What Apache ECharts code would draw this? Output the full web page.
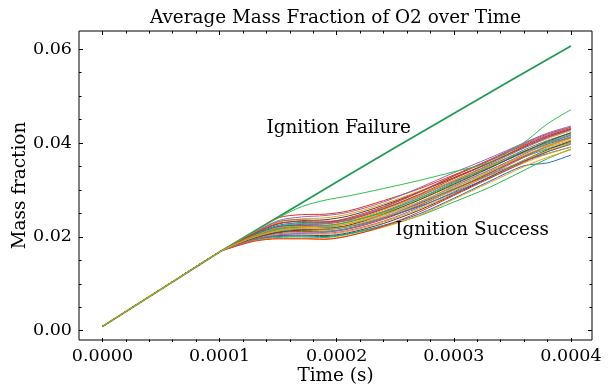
<!DOCTYPE html>
<html>
<head>
<meta charset="utf-8">
<script src="https://cdn.jsdelivr.net/npm/echarts@6/dist/echarts.min.js"></script>
<style>html,body{margin:0;padding:0;background:#fff;}#c{width:614px;height:390px;}</style>
</head>
<body>
<div id="c"></div>
<script>
// ---------- data ----------
const prefixTimes = [0, 0.00005, 0.0001];
const prefixValues = [0.0005, 0.0085, 0.0165];

const failureTimes = [0, 0.00005, 0.0001, 0.00015, 0.0002, 0.00025, 0.0003, 0.00035, 0.0004];
const failureValues = [0.0005, 0.0085, 0.0165, 0.0240, 0.0315, 0.0389, 0.0462, 0.0535, 0.0607];

const successTimes = [0.00011, 0.00013, 0.00015, 0.00017, 0.00019, 0.00021, 0.00024, 0.00027, 0.0003, 0.00033, 0.00036, 0.00038, 0.0004];

const run01 = [0.0180,0.0209,0.0238,0.0245,0.0246,0.0253,0.0275,0.0300,0.0330,0.0362,0.0398,0.0418,0.0433];
const run02 = [0.0180,0.0207,0.0232,0.0240,0.0243,0.0250,0.0272,0.0302,0.0335,0.0366,0.0399,0.0420,0.0435];
const run03 = [0.0179,0.0205,0.0228,0.0236,0.0238,0.0246,0.0268,0.0295,0.0325,0.0355,0.0388,0.0408,0.0425];
const run04 = [0.0179,0.0204,0.0225,0.0232,0.0234,0.0242,0.0265,0.0293,0.0324,0.0356,0.0390,0.0411,0.0428];
const run05 = [0.0179,0.0203,0.0222,0.0228,0.0229,0.0236,0.0258,0.0285,0.0316,0.0346,0.0378,0.0396,0.0412];
const run06 = [0.0178,0.0202,0.0220,0.0226,0.0227,0.0235,0.0258,0.0287,0.0318,0.0350,0.0381,0.0399,0.0415];
const run07 = [0.0178,0.0201,0.0218,0.0224,0.0225,0.0233,0.0257,0.0288,0.0322,0.0355,0.0392,0.0414,0.0430];
const run08 = [0.0178,0.0200,0.0216,0.0221,0.0222,0.0229,0.0252,0.0283,0.0318,0.0352,0.0388,0.0410,0.0427];
const run09 = [0.0178,0.0199,0.0214,0.0218,0.0219,0.0226,0.0248,0.0276,0.0308,0.0340,0.0372,0.0390,0.0405];
const run10 = [0.0177,0.0198,0.0212,0.0216,0.0216,0.0222,0.0243,0.0270,0.0302,0.0336,0.0370,0.0388,0.0402];
const run11 = [0.0177,0.0197,0.0210,0.0213,0.0213,0.0219,0.0240,0.0268,0.0300,0.0330,0.0360,0.0376,0.0390];
const run12 = [0.0177,0.0196,0.0208,0.0211,0.0210,0.0216,0.0237,0.0265,0.0299,0.0334,0.0368,0.0386,0.0400];
const run13 = [0.0176,0.0195,0.0206,0.0209,0.0208,0.0214,0.0235,0.0264,0.0298,0.0333,0.0370,0.0392,0.0410];
const run14 = [0.0176,0.0194,0.0204,0.0206,0.0205,0.0211,0.0231,0.0260,0.0294,0.0330,0.0368,0.0392,0.0412];
const run15 = [0.0176,0.0193,0.0202,0.0204,0.0203,0.0209,0.0229,0.0257,0.0290,0.0323,0.0356,0.0375,0.0390];
const run16 = [0.0175,0.0192,0.0200,0.0201,0.0200,0.0206,0.0226,0.0254,0.0288,0.0325,0.0362,0.0384,0.0403];
const run17 = [0.0175,0.0191,0.0198,0.0199,0.0198,0.0204,0.0222,0.0246,0.0280,0.0316,0.0350,0.0356,0.0373];
const run18 = [0.0175,0.0190,0.0196,0.0197,0.0196,0.0203,0.0220,0.0242,0.0272,0.0303,0.0340,0.0365,0.0386];
const run19 = [0.0174,0.0189,0.0194,0.0194,0.0193,0.0200,0.0218,0.0243,0.0278,0.0313,0.0348,0.0368,0.0384];
const run20 = [0.0174,0.0188,0.0193,0.0193,0.0192,0.0199,0.0220,0.0250,0.0286,0.0322,0.0358,0.0380,0.0398];
const run21 = [0.0179,0.0206,0.0230,0.0234,0.0231,0.0232,0.0250,0.0280,0.0314,0.0348,0.0384,0.0404,0.0420];
const run22 = [0.0177,0.0199,0.0215,0.0222,0.0226,0.0235,0.0260,0.0292,0.0328,0.0362,0.0396,0.0416,0.0432];
const run23 = [0.0176,0.0196,0.0210,0.0217,0.0220,0.0230,0.0255,0.0285,0.0318,0.0348,0.0378,0.0394,0.0408];
const run24 = [0.0178,0.0201,0.0219,0.0222,0.0218,0.0220,0.0238,0.0262,0.0292,0.0325,0.0360,0.0380,0.0396];
const run25 = [0.0179,0.0205,0.0226,0.0230,0.0229,0.0238,0.0262,0.0293,0.0328,0.0360,0.0394,0.0413,0.0429];
const run26 = [0.0177,0.0198,0.0213,0.0219,0.0221,0.0229,0.0251,0.0279,0.0312,0.0345,0.0380,0.0400,0.0418];
const run27 = [0.0176,0.0195,0.0207,0.0212,0.0214,0.0222,0.0246,0.0276,0.0310,0.0344,0.0380,0.0402,0.0421];
const run28 = [0.0175,0.0192,0.0201,0.0205,0.0207,0.0215,0.0238,0.0270,0.0306,0.0340,0.0375,0.0397,0.0416];
const run29 = [0.0177,0.0197,0.0211,0.0215,0.0214,0.0220,0.0240,0.0266,0.0297,0.0328,0.0362,0.0382,0.0398];
const outlier = [0.0180,0.0209,0.0238,0.0262,0.0276,0.0285,0.0301,0.0318,0.0337,0.0357,0.0400,0.0440,0.0470];
const run30 = [0.0178,0.0200,0.0217,0.0220,0.0219,0.0225,0.0245,0.0272,0.0304,0.0337,0.0372,0.0392,0.0409];

const successRuns = [
  [run01,'#e8301c'],[run02,'#8f6bb3'],[run03,'#f59d0a'],[run04,'#444444'],[run05,'#1f6fc0'],
  [run06,'#25b84c'],[run07,'#e8301c'],[run08,'#8f6bb3'],[run09,'#f59d0a'],[run10,'#b0b0b0'],
  [run11,'#1f6fc0'],[run12,'#25b84c'],[run13,'#e8301c'],[run14,'#8f6bb3'],[run15,'#f59d0a'],
  [run16,'#444444'],[run17,'#1f6fc0'],[run18,'#25b84c'],[run19,'#f59d0a'],[run20,'#e8301c'],
  [run21,'#777777'],[run22,'#8f6bb3'],[run23,'#f59d0a'],[run24,'#1f6fc0'],[run25,'#e8301c'],
  [run26,'#25b84c'],[run27,'#444444'],[run28,'#8f6bb3'],[run29,'#f59d0a'],
  [outlier,'#2ec04f'],[run30,'#d49a10']
];

const xTickLabels = ['0.0000','0.0001','0.0002','0.0003','0.0004'];
const yTickLabels = ['0.00','0.02','0.04','0.06'];

// ---------- layout ----------
const XMIN = -0.00002, XMAX = 0.000418;
const YMIN = -0.0024, YMAX = 0.0639;
const FL = 79, FR = 592, FT = 31, FB = 342, W = 614, H = 390;
const fx = v => FL + (v - XMIN) / (XMAX - XMIN) * (FR - FL);
const fy = v => FT + (YMAX - v) / (YMAX - YMIN) * (FB - FT);

const FONT = 'DejaVu Serif';
const TICK_FS = 17.5, LABEL_FS = 18.4;
const chart = echarts.init(document.getElementById('c'), null, {renderer:'canvas'});

const series = [];
series.push({
  type:'line', xAxisIndex:0, yAxisIndex:0, symbol:'none', silent:true,
  lineStyle:{color:'#1f9a55', width:1.8},
  data: failureTimes.map((t,i)=>[t, failureValues[i]])
});
successRuns.forEach(([vals,col])=>{
  const d = prefixTimes.map((t,i)=>[t, prefixValues[i]]).concat(successTimes.map((t,i)=>[t, vals[i]]));
  series.push({type:'line', xAxisIndex:0, yAxisIndex:0, symbol:'none', silent:true, smooth:0.3,
    lineStyle:{color:col, width:1}, data:d});
});

function tickAxis(extra, split){
  return Object.assign({
    type:'value',
    axisLine:{show:false},
    axisTick:{show:true, inside:true, length:4, lineStyle:{color:'#000', width:1}},
    minorTick:{show:true, splitNumber:split, length:2.5, lineStyle:{color:'#000', width:1}},
    splitLine:{show:false}, minorSplitLine:{show:false}
  }, extra);
}
const hiddenAxis = (extra)=>Object.assign({type:'value', show:false, min:0, max:1, splitLine:{show:false}}, extra);

const option = {
  animation:false,
  backgroundColor:'#fff',
  grid:[
    {left:FL, right:W-FR, top:FT, bottom:H-FB, show:true, borderColor:'#000', borderWidth:1, backgroundColor:'transparent'},
    {left:fx(0), right:W-fx(0.0004), top:FT, bottom:H-FB},
    {left:FL, right:W-FR, top:fy(0.06), bottom:H-fy(0)}
  ],
  xAxis:[
    {gridIndex:0, type:'value', min:XMIN, max:XMAX, axisLine:{show:false}, axisTick:{show:false}, axisLabel:{show:false}, splitLine:{show:false},
      name:'Time (s)', nameLocation:'middle', nameGap:27, nameTextStyle:{fontFamily:FONT, fontSize:LABEL_FS, color:'#000'}},
    tickAxis({gridIndex:1, position:'bottom', min:0, max:0.0004, interval:0.0001,
      axisLabel:{show:true, margin:5, fontFamily:FONT, fontSize:TICK_FS, color:'#000', formatter:(v)=>xTickLabels[Math.round(v/0.0001)]}}, 5),
    tickAxis({gridIndex:1, position:'top', min:0, max:0.0004, interval:0.0001, axisLabel:{show:false}}, 5),
    hiddenAxis({gridIndex:2})
  ],
  yAxis:[
    {gridIndex:0, type:'value', min:YMIN, max:YMAX, axisLine:{show:false}, axisTick:{show:false}, axisLabel:{show:false}, splitLine:{show:false},
      name:'Mass fraction', nameLocation:'middle', nameGap:50, nameTextStyle:{fontFamily:FONT, fontSize:LABEL_FS, color:'#000'}},
    tickAxis({gridIndex:2, position:'left', min:0, max:0.06, interval:0.02,
      axisLabel:{show:true, margin:7, fontFamily:FONT, fontSize:TICK_FS, color:'#000', formatter:(v)=>yTickLabels[Math.round(v/0.02)]}}, 4),
    tickAxis({gridIndex:2, position:'right', min:0, max:0.06, interval:0.02, axisLabel:{show:false}}, 4),
    hiddenAxis({gridIndex:1})
  ],
  series: series
};
chart.setOption(option);

// title and annotations
const annotations = [
  {text:'Ignition Failure', at:[0.00014, 0.042]},
  {text:'Ignition Success', at:[0.00025, 0.020]}
];
const graphics = annotations.map(a=>{
  const p = chart.convertToPixel({xAxisIndex:0, yAxisIndex:0}, a.at);
  return {type:'text', x:p[0], y:p[1]+4, z:100, silent:true,
    style:{text:a.text, fill:'#000', font:LABEL_FS+'px "DejaVu Serif"', textAlign:'left', textVerticalAlign:'bottom'}};
});
graphics.push({type:'text', x:(FL+FR)/2, y:FT-4, z:100, silent:true,
  style:{text:'Average Mass Fraction of O2 over Time', fill:'#000', font:LABEL_FS+'px "DejaVu Serif"', textAlign:'center', textVerticalAlign:'bottom'}});
chart.setOption({graphic: graphics});
</script>
</body>
</html>
